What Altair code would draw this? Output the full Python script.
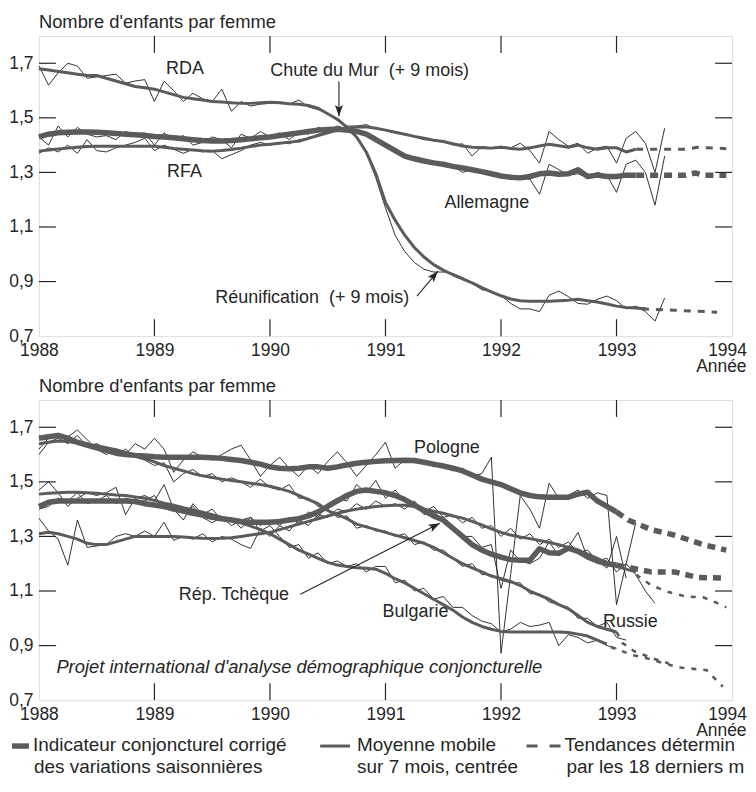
import altair as alt
import pandas as pd

# ---------------------------------------------------------------------------
# Values (monthly, starting January 1988)
# ---------------------------------------------------------------------------
YEAR0 = 1988
YEAR_TICKS = [1988, 1989, 1990, 1991, 1992, 1993, 1994]
INNER_YEAR_TICKS = [1989, 1990, 1991, 1992, 1993]
VALUE_TICKS = [0.7, 0.9, 1.1, 1.3, 1.5, 1.7]
INNER_VALUE_TICKS = [0.9, 1.1, 1.3, 1.5, 1.7]

# ---- top panel: Allemagne --------------------------------------------------
rda_avg = [1.68, 1.675, 1.67, 1.665, 1.66, 1.655, 1.655, 1.645, 1.635, 1.625, 1.615, 1.61,
           1.605, 1.595, 1.585, 1.575, 1.57, 1.565, 1.56, 1.558, 1.555, 1.553, 1.553, 1.555,
           1.557, 1.555, 1.552, 1.55, 1.545, 1.535, 1.515, 1.495, 1.465, 1.43, 1.375, 1.295,
           1.19, 1.125, 1.07, 1.025, 0.99, 0.962, 0.942, 0.925, 0.91, 0.895, 0.878, 0.862,
           0.848, 0.836, 0.83, 0.828, 0.828, 0.828, 0.83, 0.832, 0.835, 0.83, 0.825, 0.818,
           0.81, 0.805, 0.803, 0.80]
rda_raw = [1.69, 1.62, 1.665, 1.70, 1.69, 1.645, 1.65, 1.655, 1.66, 1.627, 1.635, 1.64,
           1.56, 1.634, 1.60, 1.56, 1.59, 1.57, 1.56, 1.605, 1.524, 1.56, 1.543, 1.55,
           1.553, 1.558, 1.55, 1.565, 1.54, 1.53, 1.515, 1.49, 1.47, 1.43, 1.37, 1.28,
           1.17, 1.07, 1.01, 0.97, 0.945, 0.935, 0.935, 0.93, 0.915, 0.895, 0.87, 0.865,
           0.85, 0.82, 0.80, 0.80, 0.79, 0.85, 0.865, 0.845, 0.82, 0.817, 0.835, 0.847,
           0.83, 0.80, 0.81, 0.79, 0.755, 0.84]
rfa_avg = [1.378, 1.382, 1.386, 1.389, 1.392, 1.395, 1.396, 1.396, 1.396, 1.396, 1.396, 1.396,
           1.396, 1.392, 1.388, 1.385, 1.382, 1.379, 1.378, 1.38, 1.384, 1.389, 1.395, 1.40,
           1.403, 1.407, 1.411, 1.414, 1.425, 1.435, 1.445, 1.455, 1.462, 1.466, 1.467, 1.462,
           1.455, 1.447, 1.44, 1.432, 1.425, 1.418, 1.413, 1.405, 1.397, 1.392, 1.39, 1.389,
           1.392, 1.388, 1.385, 1.39, 1.397, 1.403, 1.398, 1.392, 1.40, 1.39, 1.385, 1.39,
           1.39, 1.375, 1.385]
rfa_raw = [1.37, 1.39, 1.375, 1.40, 1.37, 1.42, 1.38, 1.375, 1.39, 1.40, 1.41, 1.425,
           1.38, 1.40, 1.385, 1.37, 1.385, 1.375, 1.38, 1.35, 1.365, 1.38, 1.40, 1.41,
           1.40, 1.41, 1.405, 1.42, 1.425, 1.44, 1.45, 1.45, 1.47, 1.47, 1.475, 1.46,
           1.455, 1.45, 1.44, 1.43, 1.42, 1.418, 1.415, 1.40, 1.405, 1.36, 1.395, 1.39,
           1.396, 1.39, 1.407, 1.38, 1.334, 1.45, 1.42, 1.396, 1.407, 1.37, 1.39, 1.396,
           1.334, 1.425, 1.45, 1.407, 1.30, 1.462]
all_cvs = [1.43, 1.44, 1.445, 1.447, 1.448, 1.448, 1.447, 1.445, 1.443, 1.44, 1.438, 1.435,
           1.432, 1.43, 1.427, 1.423, 1.42, 1.417, 1.415, 1.415, 1.417, 1.42, 1.423, 1.427,
           1.43, 1.435, 1.44, 1.445, 1.45, 1.455, 1.457, 1.458, 1.455, 1.45, 1.44, 1.42,
           1.40, 1.38, 1.36, 1.35, 1.342, 1.335, 1.33, 1.322, 1.316, 1.31, 1.303, 1.295,
           1.287, 1.282, 1.28, 1.285, 1.295, 1.298, 1.293, 1.295, 1.31, 1.285, 1.29, 1.285,
           1.285, 1.29, 1.29]
all_raw = [1.43, 1.40, 1.47, 1.43, 1.465, 1.44, 1.43, 1.435, 1.42, 1.45, 1.44, 1.445,
           1.40, 1.445, 1.42, 1.435, 1.40, 1.41, 1.43, 1.42, 1.39, 1.44, 1.425, 1.45,
           1.43, 1.445, 1.42, 1.45, 1.44, 1.465, 1.455, 1.47, 1.46, 1.45, 1.445, 1.43,
           1.40, 1.385, 1.36, 1.345, 1.34, 1.335, 1.33, 1.325, 1.30, 1.31, 1.305, 1.29,
           1.285, 1.29, 1.28, 1.275, 1.22, 1.33, 1.31, 1.29, 1.295, 1.28, 1.30, 1.29,
           1.227, 1.33, 1.345, 1.30, 1.18, 1.36]
rda_trend_x = [1993.22, 1993.5, 1993.87]
rda_trend_y = [0.80, 0.795, 0.788]
rfa_trend_x = [1993.17, 1993.6, 1993.7, 1993.95]
rfa_trend_y = [1.385, 1.385, 1.392, 1.387]
all_trend_x = [1993.17, 1993.6, 1993.68, 1993.75, 1993.95]
all_trend_y = [1.29, 1.29, 1.298, 1.29, 1.29]

# ---- bottom panel: Europe de l'Est ----------------------------------------
pol_cvs = [1.66, 1.665, 1.67, 1.66, 1.645, 1.635, 1.625, 1.615, 1.605, 1.60, 1.597, 1.595,
           1.592, 1.59, 1.59, 1.59, 1.59, 1.59, 1.588, 1.586, 1.582, 1.578, 1.572, 1.565,
           1.555, 1.55, 1.548, 1.55, 1.555, 1.555, 1.55, 1.555, 1.562, 1.568, 1.572, 1.575,
           1.577, 1.578, 1.579, 1.578, 1.572, 1.565, 1.558, 1.55, 1.54, 1.525, 1.51, 1.50,
           1.49, 1.475, 1.46, 1.45, 1.445, 1.444, 1.444, 1.444, 1.455, 1.462, 1.43, 1.41,
           1.39]
pol_raw = [1.62, 1.66, 1.67, 1.665, 1.69, 1.655, 1.62, 1.60, 1.62, 1.60, 1.64, 1.62,
           1.66, 1.62, 1.535, 1.58, 1.61, 1.59, 1.58, 1.60, 1.62, 1.634, 1.58, 1.52,
           1.56, 1.59, 1.55, 1.52, 1.56, 1.53, 1.575, 1.61, 1.57, 1.52, 1.56, 1.60,
           1.645, 1.55, 1.58, 1.57, 1.575, 1.555, 1.56, 1.54, 1.55, 1.52, 1.53, 1.59,
           0.872, 1.16, 1.45, 1.40, 1.33, 1.495, 1.44, 1.45, 1.47, 1.44, 1.46, 1.45,
           1.05, 1.20, 1.35]
tch_cvs = [1.41, 1.425, 1.43, 1.43, 1.43, 1.43, 1.43, 1.43, 1.43, 1.43, 1.428, 1.42,
           1.415, 1.41, 1.40, 1.393, 1.385, 1.378, 1.37, 1.365, 1.36, 1.355, 1.352, 1.352,
           1.352, 1.355, 1.36, 1.365, 1.375, 1.39, 1.41, 1.43, 1.45, 1.465, 1.47, 1.465,
           1.46, 1.45, 1.435, 1.415, 1.395, 1.375, 1.36, 1.33, 1.30, 1.27, 1.25, 1.235,
           1.224, 1.215, 1.213, 1.213, 1.255, 1.24, 1.238, 1.257, 1.245, 1.225, 1.21, 1.20,
           1.195]
tch_raw = [1.40, 1.41, 1.44, 1.43, 1.46, 1.42, 1.43, 1.45, 1.42, 1.44, 1.43, 1.43,
           1.45, 1.40, 1.41, 1.39, 1.41, 1.37, 1.35, 1.37, 1.34, 1.36, 1.37, 1.34,
           1.36, 1.34, 1.37, 1.35, 1.39, 1.37, 1.42, 1.44, 1.43, 1.49, 1.46, 1.505,
           1.44, 1.47, 1.43, 1.42, 1.38, 1.39, 1.36, 1.33, 1.30, 1.30, 1.26, 1.27,
           1.11, 1.25, 1.21, 1.20, 1.22, 1.28, 1.23, 1.26, 1.315, 1.22, 1.21, 1.184,
           1.30, 1.147]
rus_avg = [1.64, 1.645, 1.65, 1.648, 1.642, 1.636, 1.632, 1.625, 1.618, 1.608, 1.598, 1.585,
           1.573, 1.56, 1.55, 1.54, 1.53, 1.522, 1.516, 1.51, 1.505, 1.50, 1.495, 1.49,
           1.484, 1.475, 1.465, 1.45, 1.435, 1.42, 1.395, 1.38, 1.365, 1.345, 1.335, 1.325,
           1.315, 1.305, 1.295, 1.285, 1.275, 1.26, 1.24, 1.22, 1.20, 1.185, 1.17, 1.155,
           1.145, 1.135, 1.12, 1.10, 1.085, 1.07, 1.05, 1.035, 1.01, 0.985, 0.97, 0.96,
           0.95]
rus_raw = [1.60, 1.645, 1.66, 1.64, 1.67, 1.63, 1.64, 1.62, 1.60, 1.62, 1.59, 1.58,
           1.56, 1.57, 1.50, 1.53, 1.545, 1.52, 1.53, 1.50, 1.515, 1.50, 1.48, 1.51,
           1.48, 1.47, 1.49, 1.44, 1.44, 1.41, 1.40, 1.37, 1.375, 1.33, 1.34, 1.32,
           1.32, 1.30, 1.31, 1.27, 1.28, 1.25, 1.25, 1.22, 1.19, 1.20, 1.16, 1.16,
           1.14, 1.13, 1.13, 1.09, 1.09, 1.06, 1.05, 1.04, 1.00, 1.00, 0.97, 0.985,
           0.93, 0.92]
bul_avg = [1.455, 1.458, 1.46, 1.462, 1.462, 1.46, 1.458, 1.455, 1.452, 1.45, 1.445, 1.44,
           1.432, 1.422, 1.414, 1.405, 1.397, 1.389, 1.38, 1.37, 1.36, 1.35, 1.338, 1.325,
           1.31, 1.29, 1.27, 1.25, 1.235, 1.22, 1.205, 1.195, 1.19, 1.185, 1.183, 1.18,
           1.165, 1.145, 1.13, 1.11, 1.09, 1.07, 1.05, 1.03, 1.005, 0.985, 0.97, 0.96,
           0.952, 0.95, 0.95, 0.95, 0.95, 0.95, 0.95, 0.948, 0.942, 0.935, 0.92, 0.905]
bul_raw = [1.47, 1.50, 1.46, 1.41, 1.44, 1.46, 1.45, 1.46, 1.48, 1.38, 1.44, 1.45,
           1.43, 1.49, 1.40, 1.36, 1.42, 1.38, 1.40, 1.36, 1.37, 1.33, 1.37, 1.32,
           1.34, 1.30, 1.26, 1.27, 1.22, 1.24, 1.20, 1.21, 1.19, 1.20, 1.17, 1.19,
           1.19, 1.13, 1.14, 1.10, 1.11, 1.07, 1.08, 1.04, 1.04, 1.01, 0.99, 0.98,
           0.95, 0.96, 0.985, 0.97, 0.975, 0.985, 0.90, 0.94, 0.93, 0.91, 0.92, 0.90,
           0.89]
oth_avg = [1.31, 1.315, 1.31, 1.30, 1.29, 1.275, 1.27, 1.27, 1.28, 1.29, 1.30, 1.30,
           1.30, 1.30, 1.30, 1.298, 1.295, 1.293, 1.292, 1.293, 1.295, 1.30, 1.305, 1.31,
           1.315, 1.325, 1.335, 1.345, 1.355, 1.365, 1.375, 1.385, 1.393, 1.40, 1.405, 1.41,
           1.412, 1.414, 1.414, 1.41, 1.40, 1.392, 1.385, 1.375, 1.367, 1.355, 1.342, 1.328,
           1.315, 1.305, 1.298, 1.292, 1.285, 1.278, 1.27, 1.26, 1.25, 1.235, 1.22, 1.205,
           1.19, 1.18, 1.17]
oth_raw = [1.367, 1.32, 1.29, 1.195, 1.36, 1.26, 1.265, 1.27, 1.30, 1.31, 1.30, 1.32,
           1.30, 1.352, 1.286, 1.30, 1.29, 1.31, 1.28, 1.30, 1.29, 1.27, 1.256, 1.33,
           1.30, 1.34, 1.32, 1.36, 1.34, 1.38, 1.37, 1.40, 1.39, 1.42, 1.40, 1.43,
           1.41, 1.42, 1.40, 1.43, 1.39, 1.41, 1.37, 1.38, 1.35, 1.37, 1.33, 1.34,
           1.30, 1.33, 1.29, 1.31, 1.27, 1.29, 1.26, 1.28, 1.24, 1.25, 1.21, 1.22,
           1.17, 1.20, 1.16, 1.10, 1.055]
pol_trend_x = [1993.0, 1993.1, 1993.3, 1993.5, 1993.75, 1993.95]
pol_trend_y = [1.39, 1.36, 1.325, 1.305, 1.27, 1.25]
tch_trend_x = [1993.0, 1993.3, 1993.5, 1993.7, 1993.95]
tch_trend_y = [1.195, 1.17, 1.17, 1.15, 1.147]
oth_trend_x = [1993.17, 1993.3, 1993.45, 1993.6, 1993.75, 1993.85, 1993.95]
oth_trend_y = [1.16, 1.121, 1.096, 1.08, 1.077, 1.06, 1.04]
rus_trend_x = [1993.0, 1993.05, 1993.15, 1993.3, 1993.45]
rus_trend_y = [0.95, 0.91, 0.88, 0.855, 0.835]
bul_trend_x = [1992.95, 1993.14, 1993.26, 1993.37, 1993.54, 1993.78, 1993.86, 1993.92]
bul_trend_y = [0.895, 0.865, 0.854, 0.84, 0.82, 0.81, 0.775, 0.75]

# Annotations (anchored in data units, centred)
top_labels = ["RDA", "Chute du Mur\u00a0 (+\u00a09 mois)", "RFA", "Allemagne",
              "Réunification\u00a0 (+\u00a09 mois)"]
top_label_x = [1989.265, 1990.863, 1989.26, 1991.877, 1990.366]
top_label_y = [1.678, 1.671, 1.301, 1.187, 0.839]
bot_labels = ["Pologne", "Rép. Tchèque", "Bulgarie", "Russie"]
bot_label_x = [1991.532, 1989.688, 1991.26, 1993.12]
bot_label_y = [1.623, 1.085, 1.022, 0.987]
project_text = "Projet international d'analyse démographique conjoncturelle"
project_x, project_y = 1990.254, 0.821

legend_texts = [["Indicateur conjoncturel corrigé", "des variations saisonnières"],
                ["Moyenne mobile", "sur 7 mois, centrée"],
                ["Tendances déterminée", "par les 18 derniers mois"]]

# ---------------------------------------------------------------------------
FONT = "Liberation Sans"
INK = "#262626"
GREY = "#5b5b5b"
W, H = 695, 301
TICK = 17


def monthly(panel, series, kind, vals):
    return pd.DataFrame({"panel": panel, "series": series, "kind": kind,
                         "year": [YEAR0 + i / 12 for i in range(len(vals))],
                         "value": vals})


def pts(panel, series, kind, xs, ys):
    return pd.DataFrame({"panel": panel, "series": series, "kind": kind,
                         "year": xs, "value": ys})


df = pd.concat([
    monthly("top", "RDA", "raw", rda_raw),
    monthly("top", "RFA", "raw", rfa_raw),
    monthly("top", "ALL", "raw", all_raw),
    monthly("top", "RDA", "avg", rda_avg),
    monthly("top", "RFA", "avg", rfa_avg),
    monthly("top", "ALL", "cvs", all_cvs),
    pts("top", "RDA", "trend_avg", rda_trend_x, rda_trend_y),
    pts("top", "RFA", "trend_avg", rfa_trend_x, rfa_trend_y),
    pts("top", "ALL", "trend_cvs", all_trend_x, all_trend_y),
    monthly("bot", "POL", "raw", pol_raw),
    monthly("bot", "TCH", "raw", tch_raw),
    monthly("bot", "RUS", "raw", rus_raw),
    monthly("bot", "BUL", "raw", bul_raw),
    monthly("bot", "OTH", "raw", oth_raw),
    monthly("bot", "RUS", "avg", rus_avg),
    monthly("bot", "BUL", "avg", bul_avg),
    monthly("bot", "OTH", "avg", oth_avg),
    monthly("bot", "POL", "cvs", pol_cvs),
    monthly("bot", "TCH", "cvs", tch_cvs),
    pts("bot", "POL", "trend_cvs", pol_trend_x, pol_trend_y),
    pts("bot", "TCH", "trend_cvs", tch_trend_x, tch_trend_y),
    pts("bot", "OTH", "trend_thin", oth_trend_x, oth_trend_y),
    pts("bot", "RUS", "trend_thin", rus_trend_x, rus_trend_y),
    pts("bot", "BUL", "trend_thin", bul_trend_x, bul_trend_y),
], ignore_index=True)

xscale = alt.Scale(domain=[1988, 1994], nice=False, zero=False)
yscale = alt.Scale(domain=[0.7, 1.8], nice=False, zero=False)
xaxis = alt.Axis(values=YEAR_TICKS, format="d", title=None, ticks=False, domain=False,
                 grid=False, labelFlush=False, labelOverlap=False, labelPadding=5,
                 labelOffset={"condition": {"test": "datum.value >= 1994", "value": -5},
                              "value": 0},
                 labelFontSize=17.5, labelFont=FONT, labelColor=INK)
yaxis = alt.Axis(values=VALUE_TICKS, title=None, ticks=False, domain=False, grid=False,
                 labelExpr="replace(format(datum.value, '.1f'), '.', ',')",
                 labelFlush=False, labelOverlap=False, labelPadding=6,
                 labelFontSize=17.5, labelFont=FONT, labelColor=INK)


def X(field):
    return alt.X(field, type="quantitative", scale=xscale, axis=xaxis)


def Y(field):
    return alt.Y(field, type="quantitative", scale=yscale, axis=yaxis)


STYLES = {
    "raw": dict(strokeWidth=0.9, color="#1c1c1c"),
    "avg": dict(strokeWidth=3.0, color=GREY),
    "cvs": dict(strokeWidth=5.5, color=GREY),
    "trend_avg": dict(strokeWidth=3.0, color=GREY, strokeDash=[7, 7]),
    "trend_cvs": dict(strokeWidth=5.5, color=GREY, strokeDash=[8, 6]),
    "trend_thin": dict(strokeWidth=2.6, color=GREY, strokeDash=[5, 7]),
}

ARROW = "M0,0L-0.36,1L0,0.78L0.36,1Z"


def text_layer(labels, xs, ys, italic=False, size=18):
    d = pd.DataFrame({"label": labels, "x": xs, "y": ys})
    return alt.Chart(d).mark_text(font=FONT, fontSize=size, color=INK, align="center",
                                  baseline="middle",
                                  fontStyle="italic" if italic else "normal").encode(
        x=X("x"), y=Y("y"), text="label:N")


def arrow_layers(x0, y0, x1, y1, angle):
    d = pd.DataFrame({"x0": [x0], "y0": [y0], "x1": [x1], "y1": [y1]})
    shaft = alt.Chart(d).mark_rule(color=INK, strokeWidth=1.1).encode(
        x=X("x0"), y=Y("y0"), x2="x1:Q", y2="y1:Q")
    head = alt.Chart(d).mark_point(shape=ARROW, size=500, filled=True, opacity=1,
                                   color=INK, angle=angle).encode(x=X("x1"), y=Y("y1"))
    return [shaft, head]


def frame_ticks():
    tx = pd.DataFrame({"t": INNER_YEAR_TICKS})
    ty = pd.DataFrame({"v": INNER_VALUE_TICKS})
    kw = dict(color=INK, strokeWidth=1.2)
    top = alt.Chart(tx).mark_rule(**kw).encode(
        x=X("t"), y=alt.value(0), y2=alt.value(TICK))
    bot = alt.Chart(tx).mark_rule(**kw).encode(
        x=X("t"), y=alt.value(H - TICK), y2=alt.value(H))
    left = alt.Chart(ty).mark_rule(**kw).encode(
        y=Y("v"), x=alt.value(0), x2=alt.value(TICK))
    right = alt.Chart(ty).mark_rule(**kw).encode(
        y=Y("v"), x=alt.value(W - TICK), x2=alt.value(W))
    return [top, bot, left, right]


def fixed_text(s, x, y, size=18.4, align="left", limit=0):
    kw = dict(font=FONT, fontSize=size, color=INK, align=align, baseline="middle")
    if limit:
        kw.update(limit=limit, ellipsis="\u200b")
    return alt.Chart(pd.DataFrame({"s": [s]})).mark_text(**kw).encode(
        text="s:N", x=alt.value(x), y=alt.value(y))


def panel(name, extra):
    d = df[df.panel == name]
    layers = []
    for kind in ["raw", "avg", "trend_avg", "trend_thin", "cvs", "trend_cvs"]:
        sub = d[d.kind == kind]
        if sub.empty:
            continue
        layers.append(alt.Chart(sub).mark_line(strokeJoin="round", **STYLES[kind]).encode(
            x=X("year"), y=Y("value"), detail="series:N", order="year:Q"))
    layers += frame_ticks()
    layers.append(fixed_text("Nombre d'enfants par femme", 0, -14))
    layers.append(fixed_text("Année", 659, H + 31, size=17.5))
    layers += extra
    return alt.layer(*layers).properties(width=W, height=H)


top_extra = [text_layer(top_labels, top_label_x, top_label_y)]
top_extra += arrow_layers(1990.597, 1.634, 1990.597, 1.506, 180)
top_extra += arrow_layers(1991.273, 0.847, 1991.454, 0.938, 41)

bot_extra = [text_layer(bot_labels, bot_label_x, bot_label_y),
             text_layer([project_text], [project_x], [project_y], italic=True, size=18.4)]
bot_extra += arrow_layers(1990.263, 1.088, 1991.47, 1.348, 63)

# legend (drawn below the lower panel)
LY1, LY2 = H + 45, H + 67
leg = pd.DataFrame({"k": [0]})
bot_extra += [
    alt.Chart(leg).mark_rule(color=GREY, strokeWidth=5.5).encode(
        x=alt.value(-27), x2=alt.value(-10), y=alt.value(LY1 + 1)),
    alt.Chart(leg).mark_rule(color=GREY, strokeWidth=3).encode(
        x=alt.value(282), x2=alt.value(312), y=alt.value(LY1 + 1)),
    alt.Chart(leg).mark_rule(color=GREY, strokeWidth=3, strokeDash=[11, 12]).encode(
        x=alt.value(489), x2=alt.value(524), y=alt.value(LY1 + 1)),
    fixed_text(legend_texts[0][0], -6, LY1, size=19),
    fixed_text(legend_texts[0][1], -5, LY2, size=19),
    fixed_text(legend_texts[1][0], 319, LY1, size=19),
    fixed_text(legend_texts[1][1], 319, LY2, size=19),
    fixed_text(legend_texts[2][0], 527, LY1, size=19, limit=181),
    fixed_text(legend_texts[2][1], 529, LY2, size=19, limit=179),
]

chart = alt.vconcat(panel("top", top_extra), panel("bot", bot_extra), spacing=0).properties(
    padding={"left": 0, "top": 3, "right": 0, "bottom": 0}
).configure_view(stroke=INK, strokeWidth=1.3).configure(background="white")

chart.save("out.html", embed_options={"renderer": "svg", "actions": False})
